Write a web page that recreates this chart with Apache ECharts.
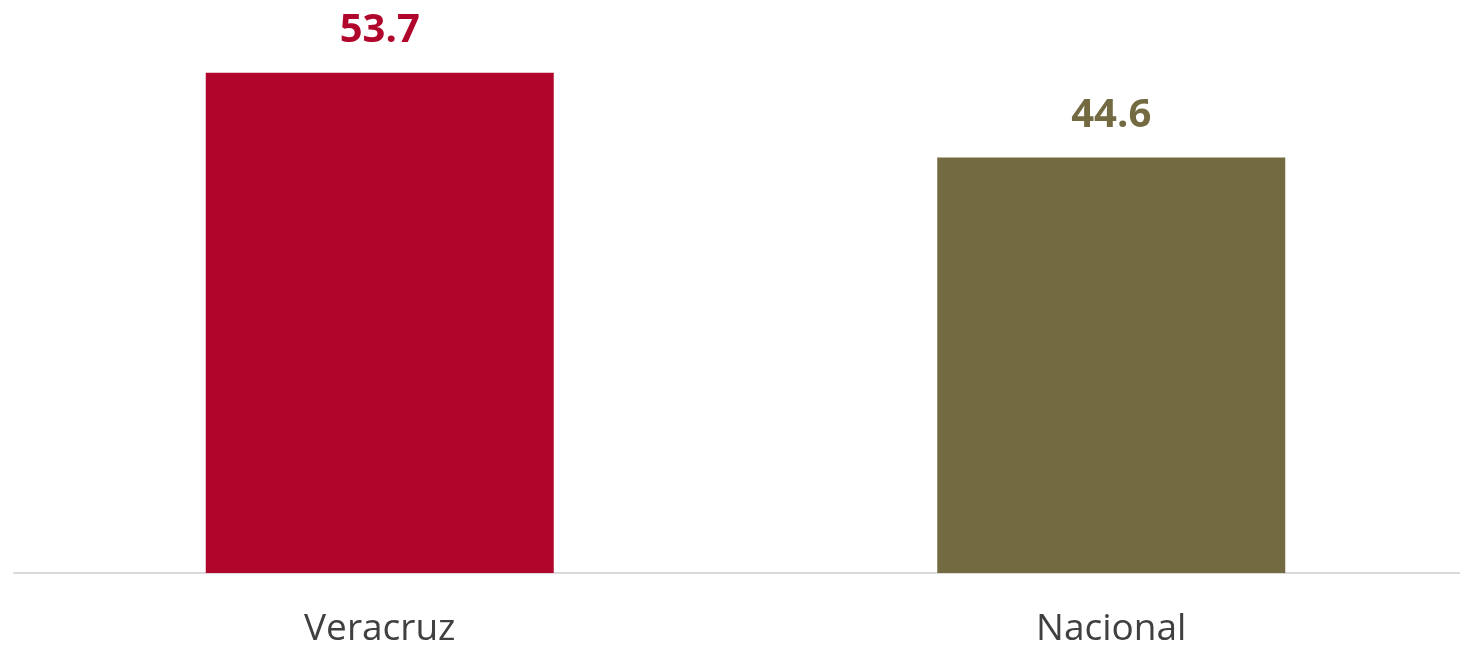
<!DOCTYPE html>
<html>
<head>
<meta charset="utf-8">
<script src="https://cdn.jsdelivr.net/npm/echarts@6/dist/echarts.min.js"></script>
<style>
  html, body { margin: 0; padding: 0; background: #fff; overflow: hidden; }
  #wrap { width: 1460px; height: 649px; overflow: hidden; }
  #chart { width: 1477px; height: 649px; }
</style>
</head>
<body>
<div id="wrap"><div id="chart"></div></div>
<script>
// datos
const categorias = ['Veracruz', 'Nacional'];
const valores = [53.7, 44.6];
const colores = ['#B0062C', '#736A42'];

const chart = echarts.init(document.getElementById('chart'));
chart.setOption({
  animation: false,
  grid: { left: 14, right: 0, top: 14, bottom: 76, containLabel: false },
  xAxis: {
    type: 'category',
    data: categorias,
    axisTick: { show: false },
    axisLine: { lineStyle: { color: '#D9D9D9', width: 2 } },
    axisLabel: {
      color: '#404040',
      fontFamily: 'Open Sans',
      fontSize: 37,
      margin: 38,
    },
  },
  yAxis: {
    type: 'value',
    min: 0,
    max: 60,
    show: false,
    splitLine: { show: false },
  },
  series: [{
    type: 'bar',
    barWidth: 348,
    data: valores.map((v, i) => ({
      value: v,
      itemStyle: { color: colores[i] },
      label: { color: colores[i] },
    })),
    label: {
      show: true,
      position: 'top',
      distance: 22,
      fontFamily: 'Open Sans',
      fontWeight: 'bold',
      fontSize: 40,
      formatter: (p) => p.value.toFixed(1),
    },
  }],
});
</script>
</body>
</html>
